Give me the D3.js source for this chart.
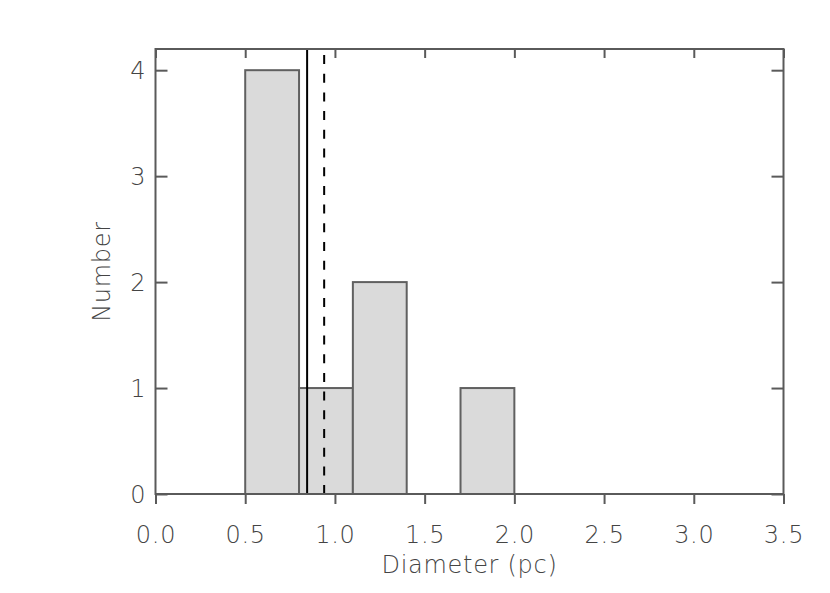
<!DOCTYPE html>
<html>
<head>
<meta charset="utf-8">
<script src="https://d3js.org/d3.v7.min.js"></script>
<style>
  html, body { margin: 0; padding: 0; background: #fff; }
  text {
    font-family: "DejaVu Sans", sans-serif;
    font-weight: 200;
    fill: #444;
  }
</style>
</head>
<body>
<svg id="chart" width="830" height="593"></svg>
<script>
// histogram bins (left edge, right edge) and counts
var binStart = [0.5, 0.8, 1.1, 1.7];
var binEnd   = [0.8, 1.1, 1.4, 2.0];
var counts   = [4, 1, 2, 1];

// vertical reference lines
var medianD = 0.845;
var meanD = 0.94;

var xTicks = [0, 0.5, 1.0, 1.5, 2.0, 2.5, 3.0, 3.5];
var yTicks = [0, 1, 2, 3, 4];

var plotL = 155.5, plotR = 783.5, plotT = 49, plotB = 494;
var axisColor = "#5a5a5a";

var svg = d3.select("#chart");

var x = d3.scaleLinear().domain([0, 3.5]).range([plotL, plotR]);
var y = d3.scaleLinear().domain([0, 4.2]).range([plotB, plotT]);

// bars
svg.append("g").selectAll("rect")
    .data(counts)
    .enter().append("rect")
    .attr("x", function(d, i) { return x(binStart[i]); })
    .attr("width", function(d, i) { return x(binEnd[i]) - x(binStart[i]); })
    .attr("y", function(d) { return y(d); })
    .attr("height", function(d) { return y(0) - y(d); })
    .attr("fill", "#dadada")
    .attr("stroke", "#606060")
    .attr("stroke-width", 2);

// median (solid) and mean (dashed)
svg.append("line")
    .attr("x1", x(medianD)).attr("x2", x(medianD))
    .attr("y1", plotT).attr("y2", plotB)
    .attr("stroke", "#000").attr("stroke-width", 2);
svg.append("line")
    .attr("x1", x(meanD)).attr("x2", x(meanD))
    .attr("y1", plotT + 6).attr("y2", plotB)
    .attr("stroke", "#000").attr("stroke-width", 2)
    .attr("stroke-dasharray", "9,9.7");

// frame
svg.append("rect")
    .attr("x", plotL).attr("y", plotT)
    .attr("width", plotR - plotL).attr("height", plotB - plotT)
    .attr("fill", "none").attr("stroke", axisColor).attr("stroke-width", 2);

// bottom axis: ticks outward
var bAxis = svg.append("g")
    .attr("transform", "translate(0," + plotB + ")")
    .call(d3.axisBottom(x).tickValues(xTicks).tickFormat(d3.format(".1f"))
        .tickSize(10).tickSizeOuter(0).tickPadding(22));
// top axis: ticks inward
var tAxis = svg.append("g")
    .attr("transform", "translate(0," + plotT + ")")
    .call(d3.axisBottom(x).tickValues(xTicks).tickFormat("")
        .tickSize(9).tickSizeOuter(0));
// left axis: ticks inward
var lAxis = svg.append("g")
    .attr("transform", "translate(" + plotL + ",0)")
    .call(d3.axisRight(y).tickValues(yTicks).tickFormat("")
        .tickSize(12).tickSizeOuter(0));
// right axis: ticks inward
var rAxis = svg.append("g")
    .attr("transform", "translate(" + plotR + ",0)")
    .call(d3.axisLeft(y).tickValues(yTicks).tickFormat("")
        .tickSize(12).tickSizeOuter(0));

// y tick labels
svg.append("g").selectAll("text")
    .data(yTicks)
    .enter().append("text")
    .attr("x", plotL - 10)
    .attr("y", function(d) { return y(d); })
    .attr("dy", "0.36em")
    .attr("text-anchor", "end")
    .style("font-size", "24px")
    .text(function(d) { return d; });

[bAxis, tAxis, lAxis, rAxis].forEach(function(g) {
    g.select(".domain").remove();
    g.selectAll(".tick line").attr("stroke", axisColor).attr("stroke-width", 2);
});
bAxis.selectAll("text")
    .style("font-size", "24px")
    .style("letter-spacing", "0.7px")
    .style("font-family", "DejaVu Sans, sans-serif")
    .style("font-weight", 200)
    .attr("fill", "#444");

// axis titles
svg.append("text")
    .attr("x", (plotL + plotR) / 2)
    .attr("y", 573)
    .attr("text-anchor", "middle")
    .style("font-size", "24px")
    .style("letter-spacing", "0.7px")
    .text("Diameter (pc)");

svg.append("text")
    .attr("transform", "translate(110," + ((plotT + plotB) / 2) + ") rotate(-90)")
    .attr("text-anchor", "middle")
    .style("font-size", "24px")
    .style("letter-spacing", "0.7px")
    .text("Number");
</script>
</body>
</html>
